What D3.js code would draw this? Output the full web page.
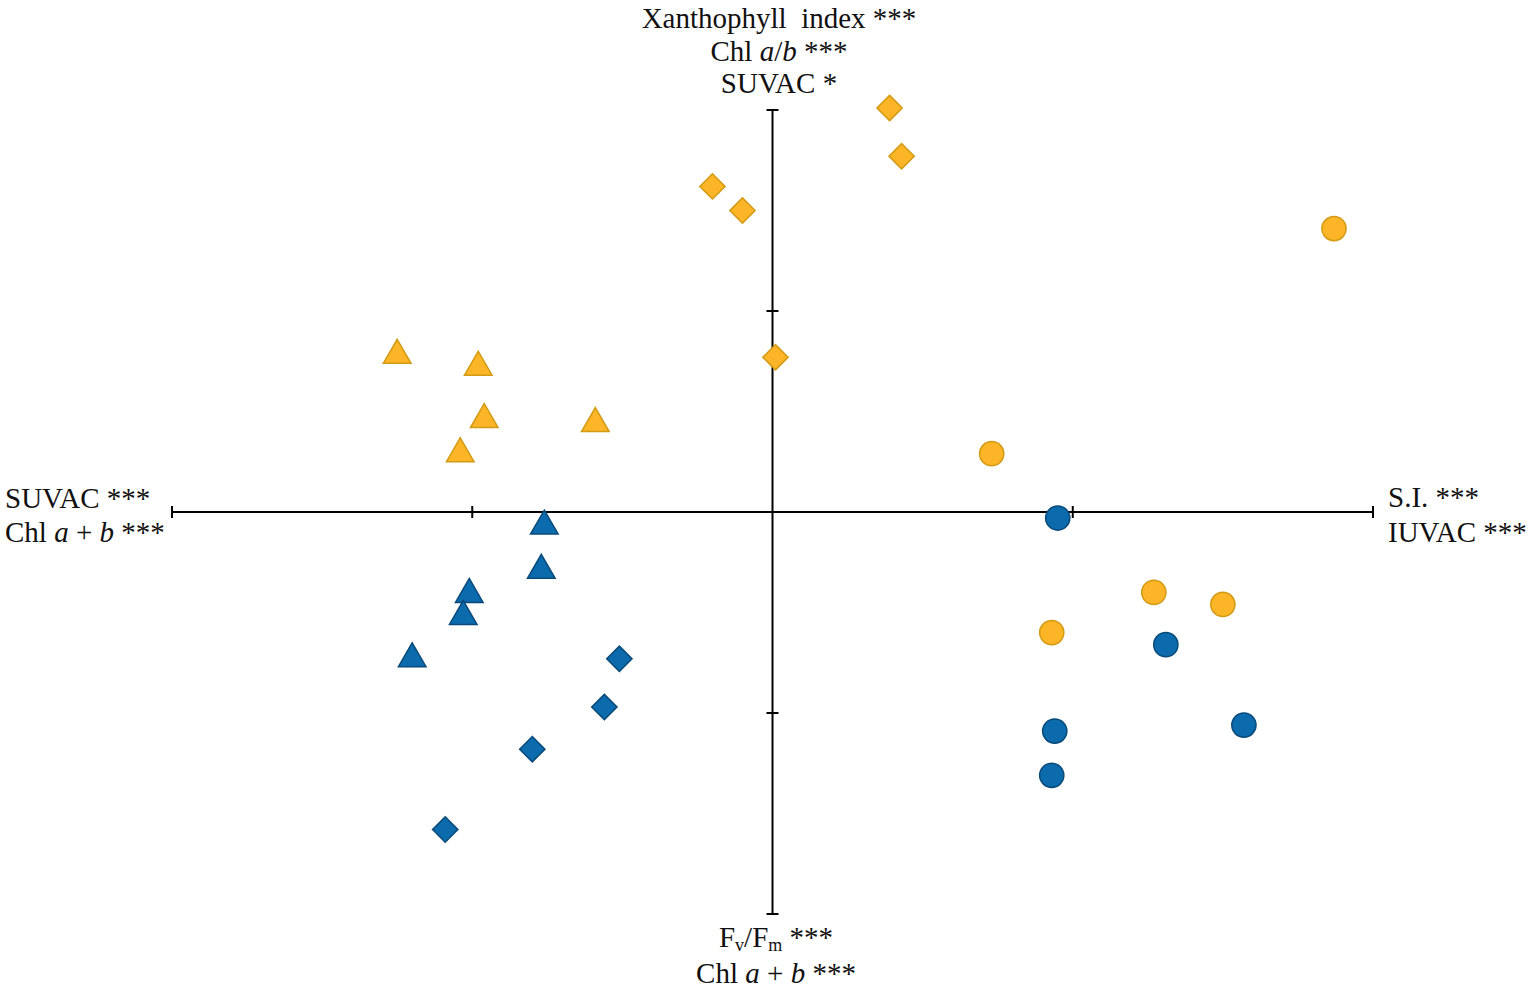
<!DOCTYPE html>
<html>
<head>
<meta charset="utf-8">
<script src="https://cdn.jsdelivr.net/npm/d3@7"></script>
<style>
  body { margin: 0; background: #fff; }
  text { font-family: "Liberation Serif", "Times New Roman", serif; fill: #111; }
</style>
</head>
<body>
<svg id="chart" width="1535" height="991"></svg>
<script>
// Data (axis units)
var orangeDiamonds = [[0.39, 2.01], [0.43, 1.77], [-0.20, 1.62], [-0.10, 1.50], [0.01, 0.77]];
var orangeTriangles = [[-1.25, 0.78], [-0.98, 0.72], [-0.96, 0.46], [-0.59, 0.44], [-1.04, 0.29]];
var orangeCircles = [[1.87, 1.41], [0.73, 0.29], [1.27, -0.40], [1.50, -0.46], [0.93, -0.60]];
var blueCircles = [[0.95, -0.03], [1.31, -0.66], [1.57, -1.06], [0.94, -1.09], [0.93, -1.31]];
var blueTriangles = [[-0.76, -0.07], [-0.77, -0.29], [-1.01, -0.41], [-1.03, -0.52], [-1.20, -0.73]];
var blueDiamonds = [[-0.51, -0.73], [-0.56, -0.97], [-0.80, -1.18], [-1.09, -1.58]];

var axisTicks = [-2, -1, 1, 2];

var width = 1535, height = 991;
var svg = d3.select("#chart");

var x = d3.scaleLinear().domain([-2, 2]).range([172, 1373]);
var y = d3.scaleLinear().domain([-2, 2]).range([914, 110]);

var orange = { fill: "#FBB526", stroke: "#D39A14" };
var blue = { fill: "#0B6BAD", stroke: "#0A4A7A" };

// axes
var axes = svg.append("g").attr("stroke", "#000").attr("stroke-width", 2);
axes.append("line")
    .attr("x1", x(-2)).attr("x2", x(2))
    .attr("y1", y(0)).attr("y2", y(0));
axes.append("line")
    .attr("x1", x(0)).attr("x2", x(0))
    .attr("y1", y(-2)).attr("y2", y(2));

axes.selectAll(".xtick")
    .data(axisTicks)
    .enter().append("line")
    .attr("x1", d => x(d)).attr("x2", d => x(d))
    .attr("y1", y(0) - 6).attr("y2", y(0) + 6);

axes.selectAll(".ytick")
    .data(axisTicks)
    .enter().append("line")
    .attr("y1", d => y(d)).attr("y2", d => y(d))
    .attr("x1", x(0) - 6).attr("x2", x(0) + 6);

// points
function drawSeries(data, type, size, color, rotate) {
    var sym = d3.symbol().type(type).size(size);
    svg.append("g").selectAll("path")
        .data(data)
        .enter().append("path")
        .attr("d", sym)
        .attr("transform", d => "translate(" + x(d[0]) + "," + y(d[1]) + ")" + (rotate ? " rotate(45)" : ""))
        .attr("fill", color.fill)
        .attr("stroke", color.stroke)
        .attr("stroke-width", 1.5);
}

drawSeries(orangeDiamonds, d3.symbolSquare, 320, orange, true);
drawSeries(orangeTriangles, d3.symbolTriangle, 330, orange, false);
drawSeries(orangeCircles, d3.symbolCircle, 460, orange, false);
drawSeries(blueCircles, d3.symbolCircle, 460, blue, false);
drawSeries(blueTriangles, d3.symbolTriangle, 330, blue, false);
drawSeries(blueDiamonds, d3.symbolSquare, 320, blue, true);

// axis labels
var fs = "29px";

var topLabel = svg.append("text")
    .attr("text-anchor", "middle")
    .style("font-size", fs);
topLabel.append("tspan").attr("x", 779).attr("y", 28).text("Xanthophyll\u00a0 index ***");
var t2 = topLabel.append("tspan").attr("x", 779).attr("y", 61);
t2.append("tspan").text("Chl ");
t2.append("tspan").style("font-style", "italic").text("a");
t2.append("tspan").text("/");
t2.append("tspan").style("font-style", "italic").text("b");
t2.append("tspan").text(" ***");
topLabel.append("tspan").attr("x", 779).attr("y", 93).text("SUVAC *");

// bottom
var bot1 = svg.append("text")
    .attr("text-anchor", "middle")
    .attr("x", 776).attr("y", 947)
    .style("font-size", fs);
bot1.append("tspan").text("F");
bot1.append("tspan").attr("dy", 4).style("font-size", "18px").text("v");
bot1.append("tspan").attr("dy", -4).text("/F");
bot1.append("tspan").attr("dy", 4).style("font-size", "18px").text("m");
bot1.append("tspan").attr("dy", -4).text(" ***");

function chlAB(sel) {
    sel.append("tspan").text("Chl ");
    sel.append("tspan").style("font-style", "italic").text("a");
    sel.append("tspan").text(" + ");
    sel.append("tspan").style("font-style", "italic").text("b");
    sel.append("tspan").text(" ***");
}

var bot2 = svg.append("text")
    .attr("text-anchor", "middle")
    .attr("x", 776).attr("y", 983)
    .style("font-size", fs);
chlAB(bot2);

// left
svg.append("text")
    .attr("x", 5).attr("y", 508)
    .style("font-size", fs)
    .text("SUVAC ***");
var left2 = svg.append("text")
    .attr("x", 5).attr("y", 542)
    .style("font-size", fs);
chlAB(left2);

// right
svg.append("text")
    .attr("x", 1388).attr("y", 507)
    .style("font-size", fs)
    .text("S.I. ***");
svg.append("text")
    .attr("x", 1388).attr("y", 542)
    .style("font-size", fs)
    .text("IUVAC ***");
</script>
</body>
</html>
